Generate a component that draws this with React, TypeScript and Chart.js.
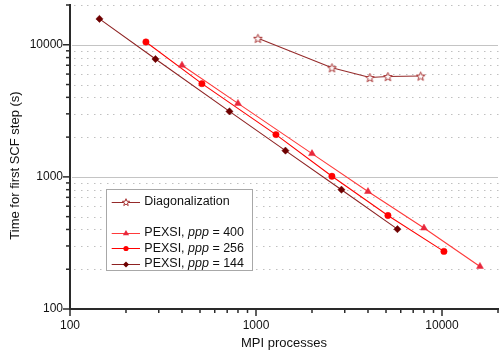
import React, { useEffect, useRef } from 'react';
import { Chart, registerables } from 'chart.js';

Chart.register(...registerables);

// ---- data ----
const procsDiag = [1024, 2560, 4096, 5120, 7680];
const timeDiag = [11200, 6700, 5650, 5750, 5800];

const procs400 = [400, 800, 2000, 4000, 8000, 16000];
const time400 = [7000, 3600, 1500, 775, 410, 210];

const procs256 = [256, 512, 1280, 2560, 5120, 10240];
const time256 = [10500, 5080, 2090, 1010, 510, 273];

const procs144 = [144, 288, 720, 1440, 2880, 5760];
const time144 = [15700, 7800, 3130, 1580, 800, 402];

const X_TICK_LABELS = [100, 1000, 10000];
const Y_TICK_LABELS = [100, 1000, 10000];
const X_RANGE = [100, 20000];
const Y_RANGE = [100, 20000];

const FONT = "'Liberation Sans', Arial, Helvetica, sans-serif";

const C_DIAG_LINE = '#952a2a';
const C_DIAG_MARK = '#a83434';
const C_400_LINE = '#ff3a3a';
const C_400_MARK = '#e8283c';
const C_256 = '#ff0000';
const C_144_LINE = '#8e2222';
const C_144_MARK = '#6e0000';

// all 1..9 x 10^n values inside a range (log tick positions)
function logTickValues(range: number[]): number[] {
  const out: number[] = [];
  for (let e = Math.pow(10, Math.floor(Math.log10(range[0]))); e <= range[1]; e *= 10) {
    for (let m = 1; m <= 9; m++) {
      const v = Math.round(m * e);
      if (v >= range[0] - 1e-9 && v <= range[1] + 1e-9) out.push(v);
    }
  }
  return out;
}

function starPath(g: CanvasRenderingContext2D, cx: number, cy: number, ro: number, ri: number) {
  g.beginPath();
  for (let i = 0; i < 10; i++) {
    const r = i % 2 === 0 ? ro : ri;
    const a = -Math.PI / 2 + (i * Math.PI) / 5;
    const px = cx + r * Math.cos(a);
    const py = cy + r * Math.sin(a);
    if (i === 0) g.moveTo(px, py);
    else g.lineTo(px, py);
  }
  g.closePath();
}

function makeStar(ro: number, ri: number): HTMLCanvasElement {
  const c = document.createElement('canvas');
  const s = Math.ceil(ro * 2 + 3);
  c.width = s;
  c.height = s;
  const g = c.getContext('2d')!;
  starPath(g, s / 2, s / 2 + 0.5, ro, ri);
  g.fillStyle = '#ffffff';
  g.fill();
  g.lineWidth = 1;
  g.strokeStyle = C_DIAG_MARK;
  g.stroke();
  return c;
}

function drawMarker(
  ctx: CanvasRenderingContext2D,
  kind: string,
  x: number,
  y: number,
  r: number,
  color: string
) {
  ctx.save();
  ctx.fillStyle = color;
  ctx.strokeStyle = color;
  ctx.lineWidth = 1;
  if (kind === 'triangle') {
    ctx.beginPath();
    ctx.moveTo(x, y - r);
    ctx.lineTo(x + r * 0.866, y + r * 0.5);
    ctx.lineTo(x - r * 0.866, y + r * 0.5);
    ctx.closePath();
    ctx.fill();
  } else if (kind === 'circle') {
    ctx.beginPath();
    ctx.arc(x, y, r, 0, Math.PI * 2);
    ctx.fill();
  } else if (kind === 'diamond') {
    ctx.beginPath();
    ctx.moveTo(x, y - r);
    ctx.lineTo(x + r, y);
    ctx.lineTo(x, y + r);
    ctx.lineTo(x - r, y);
    ctx.closePath();
    ctx.fill();
  } else if (kind === 'star') {
    starPath(ctx, x, y, r, r * 0.42);
    ctx.fillStyle = '#ffffff';
    ctx.fill();
    ctx.strokeStyle = C_DIAG_MARK;
    ctx.stroke();
  }
  ctx.restore();
}

const isDecade = (v: number) => {
  const l = Math.log10(v);
  return Math.abs(l - Math.round(l)) < 1e-6;
};

const decorPlugin = {
  id: 'decor',
  beforeDatasetsDraw(chart: any) {
    const { ctx, chartArea: a, scales } = chart;
    const y = scales.y;
    ctx.save();
    for (const v of logTickValues(Y_RANGE)) {
      if (v <= Y_RANGE[0]) continue;
      const py = Math.round(y.getPixelForValue(v)) + 0.5;
      if (isDecade(v)) {
        ctx.beginPath();
        ctx.lineWidth = 1;
        ctx.strokeStyle = '#c4c4c4';
        ctx.moveTo(a.left + 2, py);
        ctx.lineTo(a.right, py);
        ctx.stroke();
      } else {
        // dotted minor grid line
        ctx.fillStyle = '#c0c0c0';
        for (let px = a.left + 4; px < a.right; px += 6.5) {
          ctx.fillRect(Math.round(px), py - 0.5, 1.5, 1);
        }
      }
    }
    ctx.restore();
  },
  afterDraw(chart: any) {
    const { ctx, chartArea: a, scales } = chart;
    const x = scales.x;
    const y = scales.y;
    ctx.save();
    ctx.fillStyle = '#2a2a2a';
    // axis lines
    ctx.fillRect(a.left - 1, a.bottom - 1, a.right - a.left + 2, 2);
    ctx.fillRect(a.left - 1, a.top - 1, 2, a.bottom - a.top + 1);
    // ticks
    ctx.strokeStyle = '#2a2a2a';
    ctx.lineWidth = 1.5;
    for (const v of logTickValues(X_RANGE)) {
      const px = x.getPixelForValue(v);
      const len = isDecade(v) ? 6 : 3;
      ctx.beginPath();
      ctx.moveTo(px, a.bottom + 1);
      ctx.lineTo(px, a.bottom + 1 + len);
      ctx.stroke();
    }
    for (const v of logTickValues(Y_RANGE)) {
      const py = y.getPixelForValue(v);
      const len = isDecade(v) ? 6 : 3;
      ctx.beginPath();
      ctx.moveTo(a.left - 1, py);
      ctx.lineTo(a.left - 1 - len, py);
      ctx.stroke();
    }
    // y title
    ctx.save();
    ctx.translate(15, 165.5);
    ctx.rotate(-Math.PI / 2);
    ctx.fillStyle = '#111';
    ctx.font = `13px ${FONT}`;
    ctx.textAlign = 'center';
    ctx.textBaseline = 'middle';
    ctx.fillText('Time for first SCF step (s)', 0, 0);
    ctx.restore();

    // legend
    const bx = 106.5, by = 189.5, bw = 146, bh = 81;
    ctx.fillStyle = '#ffffff';
    ctx.fillRect(bx, by, bw, bh);
    ctx.strokeStyle = '#a8a8a8';
    ctx.lineWidth = 1;
    ctx.strokeRect(bx, by, bw, bh);

    const entries = [
      { y: 202, line: C_DIAG_LINE, mark: C_DIAG_MARK, kind: 'star', r: 3.8, parts: [['Diagonalization', false]] },
      { y: 232.7, line: C_400_LINE, mark: C_400_MARK, kind: 'triangle', r: 3.6, parts: [['PEXSI, ', false], ['ppp', true], [' = 400', false]] },
      { y: 248.3, line: C_256, mark: C_256, kind: 'circle', r: 2.6, parts: [['PEXSI, ', false], ['ppp', true], [' = 256', false]] },
      { y: 263.7, line: C_144_LINE, mark: C_144_MARK, kind: 'diamond', r: 3, parts: [['PEXSI, ', false], ['ppp', true], [' = 144', false]] },
    ];
    for (const e of entries) {
      ctx.beginPath();
      ctx.strokeStyle = e.line;
      ctx.lineWidth = 1;
      ctx.moveTo(111.7, Math.round(e.y) + 0.5);
      ctx.lineTo(140, Math.round(e.y) + 0.5);
      ctx.stroke();
      drawMarker(ctx, e.kind, 126, Math.round(e.y) + 0.5, e.r, e.mark);
      let tx = 144.3;
      ctx.fillStyle = '#111';
      ctx.textAlign = 'left';
      ctx.textBaseline = 'middle';
      for (const [txt, it] of e.parts as [string, boolean][]) {
        ctx.font = `${it ? 'italic ' : ''}12.5px ${FONT}`;
        ctx.fillText(txt, tx, e.y);
        tx += ctx.measureText(txt).width;
      }
    }
    ctx.restore();
  },
};

const pts = (xs: number[], ys: number[]) => xs.map((v, i) => ({ x: v, y: ys[i] }));

export default function App() {
  const ref = useRef<HTMLCanvasElement | null>(null);
  useEffect(() => {
    if (!ref.current) return;
    const star = makeStar(4.6, 1.95);
    const labelCb = (list: number[]) => (v: any) => {
      const n = Number(v);
      return list.some((t) => Math.abs(t - n) / t < 1e-6) ? String(Math.round(n)) : null;
    };
    const chart = new Chart(ref.current, {
      type: 'line',
      data: {
        datasets: [
          {
            label: 'Diagonalization',
            data: pts(procsDiag, timeDiag),
            borderColor: C_DIAG_LINE,
            borderWidth: 1.1,
            pointStyle: star as any,
            pointRadius: 5,
            backgroundColor: '#fff',
          },
          {
            label: 'PEXSI, ppp = 400',
            data: pts(procs400, time400),
            borderColor: C_400_LINE,
            borderWidth: 1.1,
            pointStyle: 'triangle',
            pointRadius: 4,
            pointBackgroundColor: C_400_MARK,
            pointBorderColor: C_400_MARK,
            pointBorderWidth: 0.5,
          },
          {
            label: 'PEXSI, ppp = 256',
            data: pts(procs256, time256),
            borderColor: C_256,
            borderWidth: 1.1,
            pointStyle: 'circle',
            pointRadius: 3.2,
            pointBackgroundColor: C_256,
            pointBorderColor: C_256,
            pointBorderWidth: 0.5,
          },
          {
            label: 'PEXSI, ppp = 144',
            data: pts(procs144, time144),
            borderColor: C_144_LINE,
            borderWidth: 1.1,
            pointStyle: 'rectRot',
            pointRadius: 3.6,
            pointBackgroundColor: C_144_MARK,
            pointBorderColor: C_144_MARK,
            pointBorderWidth: 0.5,
          },
        ],
      },
      options: {
        animation: false,
        responsive: false,
        maintainAspectRatio: false,
        layout: { autoPadding: false, padding: { top: 5, right: 1, left: 0, bottom: 0 } },
        plugins: { legend: { display: false }, tooltip: { enabled: false } },
        elements: { line: { tension: 0 } },
        scales: {
          x: {
            type: 'logarithmic',
            min: X_RANGE[0],
            max: X_RANGE[1],
            position: 'bottom',
            grid: { display: true, drawOnChartArea: false, drawTicks: true, tickLength: 6, color: 'transparent', tickColor: 'transparent' },
            border: { display: false },
            ticks: {
              autoSkip: false,
              maxRotation: 0,
              padding: 3,
              color: '#111',
              font: { family: FONT, size: 12 },
              callback: labelCb(X_TICK_LABELS),
            },
            title: { display: true, text: 'MPI processes', color: '#111', font: { family: FONT, size: 13 }, padding: { top: 0, bottom: 3 } },
            afterFit: (s: any) => {
              s.height = 45;
              s.paddingLeft = 0;
              s.paddingRight = 0;
            },
          },
          y: {
            type: 'logarithmic',
            min: Y_RANGE[0],
            max: Y_RANGE[1],
            grid: { display: true, drawOnChartArea: false, drawTicks: true, tickLength: 4, color: 'transparent', tickColor: 'transparent' },
            border: { display: false },
            ticks: {
              autoSkip: false,
              padding: 3,
              color: '#111',
              font: { family: FONT, size: 12 },
              callback: labelCb(Y_TICK_LABELS),
            },
            title: { display: false },
            afterFit: (s: any) => {
              s.width = 70;
              s.paddingTop = 0;
              s.paddingBottom = 0;
            },
          },
        },
      } as any,
      plugins: [decorPlugin],
    });
    return () => chart.destroy();
  }, []);
  return (
    <div style={{ position: 'absolute', left: 0, top: 0, width: 499, height: 354 }}>
      <canvas ref={ref} width={499} height={354} style={{ display: 'block' }} />
    </div>
  );
}
